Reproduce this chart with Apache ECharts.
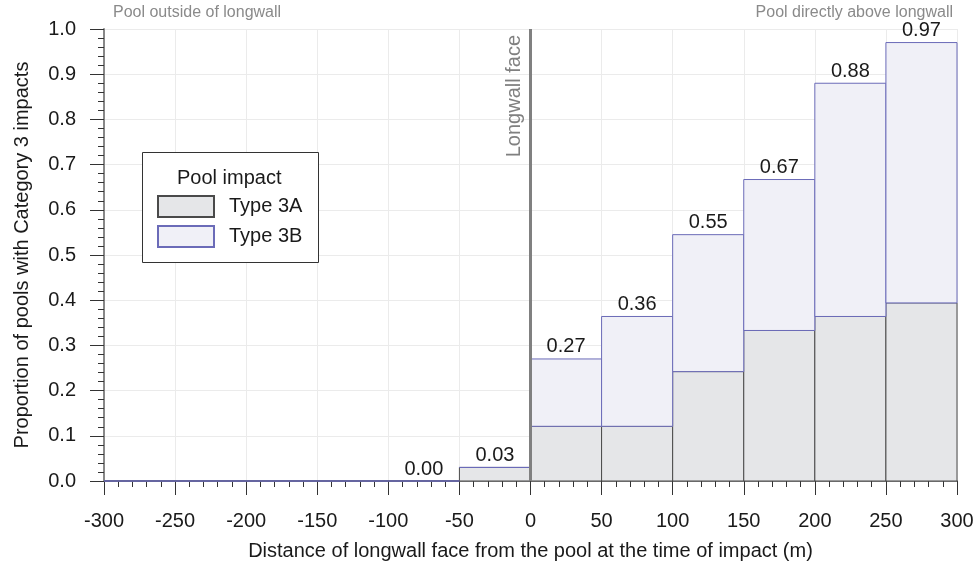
<!DOCTYPE html>
<html><head><meta charset="utf-8">
<script src="https://cdn.jsdelivr.net/npm/echarts@6/dist/echarts.min.js"></script>
<style>html,body{margin:0;padding:0;background:#fff}#c{width:977px;height:566px}</style>
</head><body><div id="c"></div>
<script>
const binStart = [-300,-250,-200,-150,-100,-50,0,50,100,150,200,250];
const binWidth = 50;
const type3A = [0,0,0,0,0,0.03,0.121,0.121,0.242,0.333,0.364,0.394];
const type3B = [0,0,0,0,0,0,0.149,0.243,0.303,0.334,0.516,0.576];
const totalLabels = [null,null,null,null,'0.00','0.03','0.27','0.36','0.55','0.67','0.88','0.97'];
const xTicks = [-300,-250,-200,-150,-100,-50,0,50,100,150,200,250,300];
const yTicks = [0,0.1,0.2,0.3,0.4,0.5,0.6,0.7,0.8,0.9,1.0];

const dataA = binStart.map((s,i)=>[s, s+binWidth, 0, type3A[i]]);
const dataB = binStart.map((s,i)=>[s, s+binWidth, type3A[i], type3A[i]+type3B[i]]);
const ff = 'Liberation Sans, Arial, sans-serif';

function makeRender(fill, stroke, withLabels){
  return function(params, api){
    const p0 = api.coord([api.value(0), api.value(3)]);
    const p1 = api.coord([api.value(1), api.value(2)]);
    const children = [{
      type:'rect',
      shape:{x:p0[0], y:p0[1], width:p1[0]-p0[0], height:p1[1]-p0[1]},
      style:{fill:fill, stroke:stroke, lineWidth:1}
    }];
    const lab = totalLabels[params.dataIndex];
    if (withLabels && lab) {
      children.push({
        type:'text',
        style:{text:lab, x:(p0[0]+p1[0])/2, y:p0[1]-2, textAlign:'center', textVerticalAlign:'bottom',
          fontSize:20, fill:'#1a1a1a', fontFamily:ff}
      });
    }
    return {type:'group', children};
  };
}

const chart = echarts.init(document.getElementById('c'));
chart.setOption({
  animation:false,
  textStyle:{fontFamily:ff},
  grid:{left:104, right:20, top:29, bottom:83},
  xAxis:{
    type:'value', min:-300, max:300, interval:50,
    name:'Distance of longwall face from the pool at the time of impact (m)',
    nameLocation:'middle', nameGap:60,
    nameTextStyle:{fontSize:20, color:'#1a1a1a'},
    axisLine:{show:true, onZero:false, lineStyle:{color:'#888', width:2}},
    axisTick:{show:true, inside:false, length:14, lineStyle:{color:'#333', width:1}},
    minorTick:{show:true, splitNumber:5, length:6, lineStyle:{color:'#333', width:1}},
    axisLabel:{fontSize:20, color:'#1a1a1a', margin:30, formatter:v=>xTicks.includes(v)?String(v):''},
    splitLine:{show:true, lineStyle:{color:'#ebebeb', width:1}}
  },
  yAxis:{
    type:'value', min:0, max:1, interval:0.1,
    name:'Proportion of pools with Category 3 impacts',
    nameLocation:'middle', nameGap:72,
    nameTextStyle:{fontSize:20, color:'#1a1a1a'},
    axisLine:{show:true, onZero:false, lineStyle:{color:'#888', width:2}},
    axisTick:{show:true, inside:false, length:14, lineStyle:{color:'#333', width:1}},
    minorTick:{show:true, splitNumber:5, length:6, lineStyle:{color:'#333', width:1}},
    axisLabel:{fontSize:20, color:'#1a1a1a', margin:28, formatter:v=>v.toFixed(1)},
    splitLine:{show:true, lineStyle:{color:'#ebebeb', width:1}}
  },
  legend:{
    orient:'vertical', left:152, top:190, itemWidth:56, itemHeight:21, itemGap:7,
    icon:'rect', z:10,
    textStyle:{fontSize:20, color:'#1a1a1a', padding:[0,0,0,10]},
    data:['Type 3A','Type 3B']
  },
  graphic:[
    {type:'rect', left:142, top:152, z:5, shape:{width:176, height:110}, style:{fill:'#fff', stroke:'#333', lineWidth:1}},
    {type:'text', left:177, top:168, z:6, style:{text:'Pool impact', fontSize:20, fill:'#1a1a1a', fontFamily:ff}},
    {type:'text', left:113, top:5, z:6, style:{text:'Pool outside of longwall', fontSize:16, fill:'#8a8a8a', fontFamily:ff}},
    {type:'text', right:24, top:5, z:6, style:{text:'Pool directly above longwall', fontSize:16, fill:'#8a8a8a', fontFamily:ff}}
  ],
  series:[
    {name:'Type 3A', type:'custom', renderItem:makeRender('#e5e6e8','#4a4a4a', false), data:dataA,
     encode:{x:[0,1], y:[2,3]}, itemStyle:{color:'#e5e6e8', borderColor:'#4a4a4a', borderWidth:1}, z:2},
    {name:'Type 3B', type:'custom', renderItem:makeRender('#f0f0f7','#6b6bb8', true), data:dataB,
     encode:{x:[0,1], y:[2,3]}, itemStyle:{color:'#f0f0f7', borderColor:'#6b6bb8', borderWidth:1}, z:3,
     markLine:{silent:true, symbol:'none', z:4,
       lineStyle:{color:'#808080', width:3, type:'solid'},
       label:{show:true, position:'insideEndTop', formatter:'Longwall face', fontSize:20, color:'#808080', distance:6},
       data:[[{coord:[0,0]},{coord:[0,1]}]]}
    }
  ]
});
</script></body></html>
